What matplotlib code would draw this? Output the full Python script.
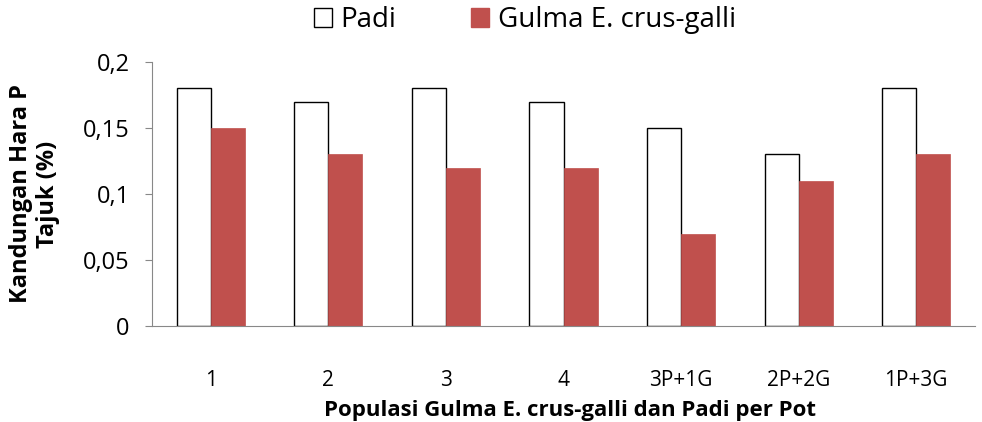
import matplotlib
matplotlib.use("Agg")
import matplotlib.pyplot as plt
import numpy as np
from matplotlib.patches import Patch

categories = ["1", "2", "3", "4", "3P+1G", "2P+2G", "1P+3G"]
padi = [0.18, 0.17, 0.18, 0.17, 0.15, 0.13, 0.18]
gulma = [0.15, 0.13, 0.12, 0.12, 0.07, 0.11, 0.13]
yticks = [0, 0.05, 0.1, 0.15, 0.2]
ytick_labels = ["0", "0,05", "0,1", "0,15", "0,2"]

plt.rcParams['font.family'] = ['Open Sans', 'DejaVu Sans']

fig = plt.figure(figsize=(9.82, 4.22), dpi=100)
ax = fig.add_axes([152/982, 1 - 326/422, (975-152)/982, (326-62)/422])

x = np.arange(len(categories))
w = 0.29
ax.bar(x - w/2, padi, w, color="white", edgecolor="black", linewidth=1.0, label="Padi")
ax.bar(x + w/2, gulma, w, color="#C0504D", edgecolor="#C0504D", linewidth=0.5, label="Gulma E. crus-galli")

ax.set_xlim(-0.5, len(categories) - 0.5)
ax.set_ylim(0, 0.2)
ax.set_yticks(yticks)
ax.set_yticklabels(ytick_labels, fontsize=17)
ax.set_xticks(x)
ax.set_xticklabels(categories, fontsize=15)
ax.tick_params(axis='x', length=0, pad=32)
ax.tick_params(axis='y', length=5, color="#888888", pad=11)
for s in ["top", "right"]:
    ax.spines[s].set_visible(False)
ax.spines["left"].set_color("#888888")
ax.spines["bottom"].set_color("#888888")

ax.set_ylabel("Kandungan Hara P\nTajuk (%)", fontsize=17, fontweight="bold", linespacing=1.15)
ax.yaxis.set_label_coords(-92/823, 0.5)

handles = [Patch(facecolor="white", edgecolor="black", label="Padi"),
           Patch(facecolor="#C0504D", edgecolor="#C0504D", label="Gulma E. crus-galli")]
fig.legend(handles=handles, loc="center", bbox_to_anchor=(525/982, 1 - 20/422), ncol=2,
           frameon=False, fontsize=20, handlelength=0.65, handleheight=0.65,
           handletextpad=0.3, columnspacing=2.7)

fig.text(570/982, 1/422, "Populasi Gulma E. crus-galli dan Padi per Pot",
         ha="center", va="bottom", fontsize=16, fontweight="bold")

fig.savefig("out.png", dpi=100)
